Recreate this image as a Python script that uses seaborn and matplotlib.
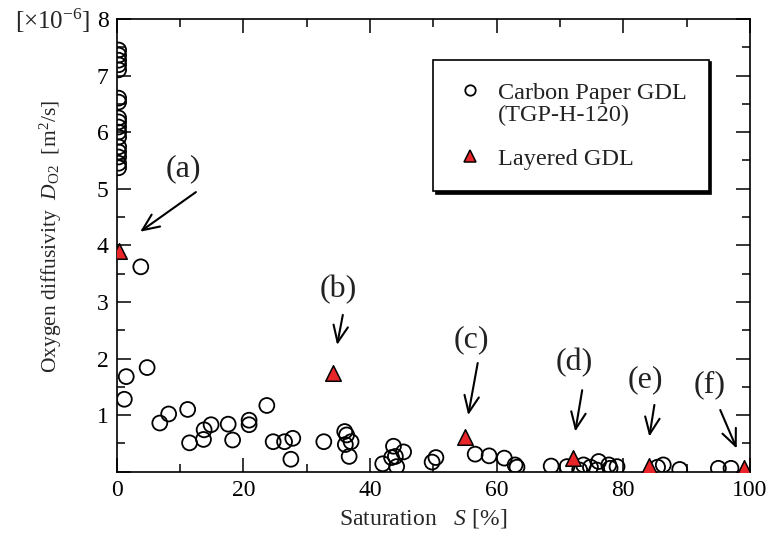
import numpy as np
import pandas as pd
import matplotlib
matplotlib.use("Agg")
import matplotlib.pyplot as plt
from matplotlib.lines import Line2D
from matplotlib.ticker import MultipleLocator
import seaborn as sns

# Carbon paper GDL (TGP-H-120) measurements
carbon_s = [0.3, 0.3, 0.3, 0.3, 0.3, 0.3, 0.3, 0.3, 0.3, 0.3, 0.3, 0.3, 0.3, 0.3, 0.3, 0.3, 0.3,
            3.8, 1.5, 1.2, 4.8, 6.8, 8.2, 11.2, 11.5, 13.7, 13.8, 14.9, 17.6, 18.3, 20.9, 20.9,
            23.7, 24.7, 26.5, 27.8, 27.5, 32.7, 36.0, 36.3, 36.1, 37.0, 36.7,
            42.0, 43.7, 43.4, 44.0, 45.3, 44.2, 49.8, 50.4, 56.6, 58.8, 61.2, 62.9, 63.2,
            68.6, 71.1, 73.1, 73.7, 74.8, 76.1, 75.8, 77.7, 77.9, 79.0, 85.4, 86.3, 88.9,
            95.0, 97.0]
carbon_d = [7.45, 7.36, 7.27, 7.19, 7.10, 6.60, 6.53, 6.25, 6.18, 6.09, 6.00, 5.91, 5.74, 5.65,
            5.56, 5.45, 5.37,
            3.62, 1.68, 1.28, 1.84, 0.86, 1.02, 1.10, 0.51, 0.57, 0.74, 0.83, 0.84, 0.56, 0.91,
            0.83, 1.17, 0.53, 0.53, 0.59, 0.22, 0.53, 0.71, 0.65, 0.48, 0.53, 0.27,
            0.14, 0.45, 0.25, 0.27, 0.35, 0.09, 0.17, 0.25, 0.31, 0.28, 0.24, 0.12, 0.08,
            0.10, 0.09, 0.03, 0.12, 0.08, 0.18, 0.03, 0.12, 0.06, 0.09, 0.08, 0.12, 0.04,
            0.06, 0.06]

# Layered GDL measurements (a)-(f)
layered_s = [0.3, 34.1, 55.0, 72.0, 84.1, 99.1]
layered_d = [3.90, 1.75, 0.62, 0.24, 0.10, 0.07]

# annotation labels
labels = ["(a)", "(b)", "(c)", "(d)", "(e)", "(f)"]
label_xy = [(10.5, 5.35), (35.0, 3.22), (56.0, 2.33), (72.2, 1.93), (83.5, 1.62), (93.6, 1.53)]
arrow_tail = [(12.5, 4.94), (35.7, 2.77), (57.0, 1.92), (73.5, 1.44), (84.9, 1.18), (95.3, 1.09)]
arrow_head = [(3.7, 4.24), (34.8, 2.24), (55.5, 1.00), (72.4, 0.71), (84.1, 0.62), (97.9, 0.41)]

df = pd.DataFrame({
    "S": carbon_s + layered_s,
    "D": carbon_d + layered_d,
    "GDL": ["carbon"] * len(carbon_s) + ["layered"] * len(layered_s),
})

sns.set_style("ticks")
plt.rcParams["font.family"] = ["Liberation Serif", "DejaVu Serif"]
plt.rcParams["mathtext.fontset"] = "custom"
plt.rcParams["mathtext.rm"] = "Liberation Serif"
plt.rcParams["mathtext.it"] = "Liberation Serif:italic"

fig = plt.figure(figsize=(7.71, 5.37), dpi=100)
ax = fig.add_axes([0.1514, 0.1216, 0.8214, 0.8432])

sns.scatterplot(data=df[df.GDL == "carbon"], x="S", y="D", ax=ax, marker="o",
                s=115, facecolors="none", edgecolor="black", linewidth=1.3,
                legend=False, zorder=3)
sns.scatterplot(data=df[df.GDL == "layered"], x="S", y="D", ax=ax, marker="^",
                s=125, color="#e8262a", edgecolor="black", linewidth=1.1,
                legend=False, zorder=4)

for lab, pos, tail, head in zip(labels, label_xy, arrow_tail, arrow_head):
    ax.text(pos[0], pos[1], lab, fontsize=23, ha="center", va="center", color="#222222")
    ax.annotate("", xy=head, xytext=tail,
                arrowprops=dict(arrowstyle="->,head_length=0.8,head_width=0.35",
                                mutation_scale=15, color="black", lw=1.5,
                                shrinkA=0, shrinkB=0))

ax.set_xlim(0, 100)
ax.set_ylim(0, 8)
ax.xaxis.set_major_locator(MultipleLocator(20))
ax.xaxis.set_minor_locator(MultipleLocator(10))
ax.yaxis.set_major_locator(MultipleLocator(1))
ax.yaxis.set_minor_locator(MultipleLocator(0.5))
ax.set_yticks(range(0, 9))
ax.set_yticklabels([""] + [str(i) for i in range(1, 9)])
ax.tick_params(which="both", direction="in", top=True, right=True, width=1.1,
               labelsize=17, colors="black")
ax.tick_params(which="major", length=10, pad=6)
ax.tick_params(which="minor", length=5.5)
for sp in ax.spines.values():
    sp.set_linewidth(1.2)
    sp.set_color("black")

ax.set_xlabel("Saturation   $S$ [%]", fontsize=17)
ax.xaxis.set_label_coords(0.483, -0.078)
ax.set_ylabel(r"Oxygen diffusivity  $D_{\mathrm{O2}}$  [m$^{2}$/s]", fontsize=15.5)
ax.yaxis.set_label_coords(-0.083, 0.52)
fig.text(0.068, 0.962, "[×10$^{\\mathrm{-6}}$]", fontsize=18, ha="center", va="center")

handles = [
    Line2D([], [], marker="o", ls="none", markersize=7.5, markerfacecolor="none",
           markeredgecolor="black", markeredgewidth=1.3),
    Line2D([], [], ls="none"),
    Line2D([], [], ls="none"),
    Line2D([], [], marker="^", ls="none", markersize=9, markerfacecolor="#e8262a",
           markeredgecolor="black", markeredgewidth=1.1),
]
names = ["Carbon Paper GDL", "(TGP-H-120)", " ", "Layered GDL"]
leg = ax.legend(handles, names, loc="upper left", bbox_to_anchor=(0.5, 0.91),
                borderaxespad=0, fontsize=17.5, frameon=True, fancybox=False,
                edgecolor="black", framealpha=1, handlelength=1.2, handletextpad=0.55,
                borderpad=0.9, labelspacing=0.0,
                shadow=dict(facecolor="black", edgecolor="black", alpha=1))
leg.get_frame().set_linewidth(1.2)
for t in leg.get_texts():
    t.set_color("#222222")

fig.savefig("out.png", dpi=100)
